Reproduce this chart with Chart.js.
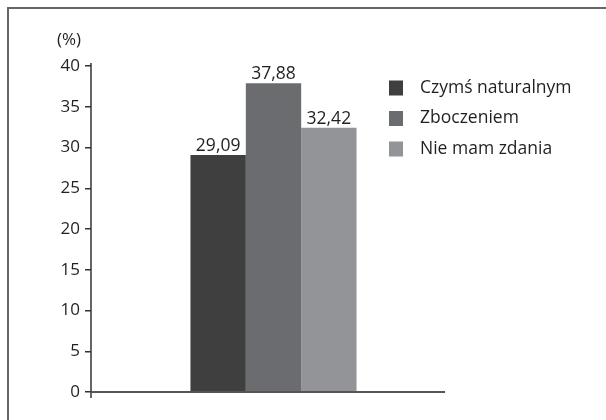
<!DOCTYPE html>
<html>
<head>
<meta charset="utf-8">
<script src="https://cdn.jsdelivr.net/npm/chart.js@4"></script>
<style>
  body { margin: 0; background: #fff; }
  #wrap { position: relative; width: 606px; height: 420px; }
  #frame { position: absolute; left: 7px; top: 7px; right: 0; bottom: 0; border-top: 2px solid #666; border-left: 2px solid #666; }
</style>
</head>
<body>
<div id="wrap">
  <div id="frame"></div>
  <canvas id="chart" width="606" height="420"></canvas>
</div>
<script>
// --- dane z wykresu ---
const categories = [''];
const seriesNames = ['Czymś naturalnym', 'Zboczeniem', 'Nie mam zdania'];
const naturalne = [29.09];
const zboczenie = [37.88];
const brakZdania = [32.42];
const barColors = ['#3f3f40', '#6b6c70', '#939497'];
const yTicks = [0, 5, 10, 15, 20, 25, 30, 35, 40];

const FONT = '"Open Sans", "Noto Sans", sans-serif';
const TEXT = '#231f20';

const fmt = v => v.toFixed(2).replace('.', ',');

// axis lines (y sticks out a little above and below), unit label, value labels, legend
const extras = {
    id: 'extras',
    afterDraw(chart) {
        const { ctx, chartArea } = chart;
        ctx.save();
        ctx.strokeStyle = '#333';
        ctx.lineWidth = 1.5;
        ctx.beginPath();
        ctx.moveTo(chartArea.left, chartArea.top - 3);
        ctx.lineTo(chartArea.left, chartArea.bottom + 6);
        ctx.stroke();

        // x axis stops a bit short of the plot's right edge
        ctx.strokeStyle = '#555';
        ctx.lineWidth = 2;
        ctx.beginPath();
        ctx.moveTo(chartArea.left, chartArea.bottom);
        ctx.lineTo(chartArea.right - 11, chartArea.bottom);
        ctx.stroke();

        ctx.fillStyle = TEXT;
        ctx.font = '17px ' + FONT;
        ctx.textAlign = 'center';
        ctx.textBaseline = 'middle';
        ctx.fillText('(%)', chartArea.left - 22, chartArea.top - 26);

        ctx.font = '17.5px ' + FONT;
        ctx.textBaseline = 'alphabetic';
        chart.data.datasets.forEach((ds, i) => {
            chart.getDatasetMeta(i).data.forEach((bar, j) => {
                ctx.fillText(fmt(ds.data[j]), bar.x, bar.y - 4);
            });
        });

        // legend
        ctx.textAlign = 'left';
        ctx.textBaseline = 'middle';
        ctx.font = '17.5px ' + FONT;
        const lx = chartArea.left + 298, ly = chartArea.top + 22;
        chart.data.datasets.forEach((ds, i) => {
            const y = ly + i * 30.5;
            ctx.fillStyle = ds.backgroundColor;
            ctx.fillRect(lx, y - 7.5, 14, 15);
            ctx.fillStyle = TEXT;
            ctx.fillText(ds.label, lx + 31, y);
        });
        ctx.restore();
    }
};

new Chart(document.getElementById('chart'), {
    type: 'bar',
    data: {
        labels: categories,
        datasets: [
            { label: seriesNames[0], data: naturalne, backgroundColor: barColors[0] },
            { label: seriesNames[1], data: zboczenie, backgroundColor: barColors[1] },
            { label: seriesNames[2], data: brakZdania, backgroundColor: barColors[2] }
        ]
    },
    options: {
        responsive: false,
        animation: false,
        layout: { padding: { left: 0, top: 66, right: 150, bottom: 28 } },
        datasets: { bar: { categoryPercentage: 0.455, barPercentage: 1 } },
        plugins: { legend: { display: false }, tooltip: { enabled: false } },
        scales: {
            x: {
                grid: { display: false },
                ticks: { display: false },
                border: { display: false },
                afterFit(scale) { scale.height = 0; }
            },
            y: {
                min: 0,
                max: 40,
                afterBuildTicks(scale) { scale.ticks = yTicks.map(v => ({ value: v })); },
                ticks: { color: TEXT, font: { family: FONT, size: 17 }, padding: 5 },
                grid: { drawOnChartArea: false, drawTicks: true, tickLength: 6, color: '#333', lineWidth: 1.5 },
                border: { display: false },
                afterFit(scale) { scale.width = 91; }
            }
        }
    },
    plugins: [extras]
});
</script>
</body>
</html>
